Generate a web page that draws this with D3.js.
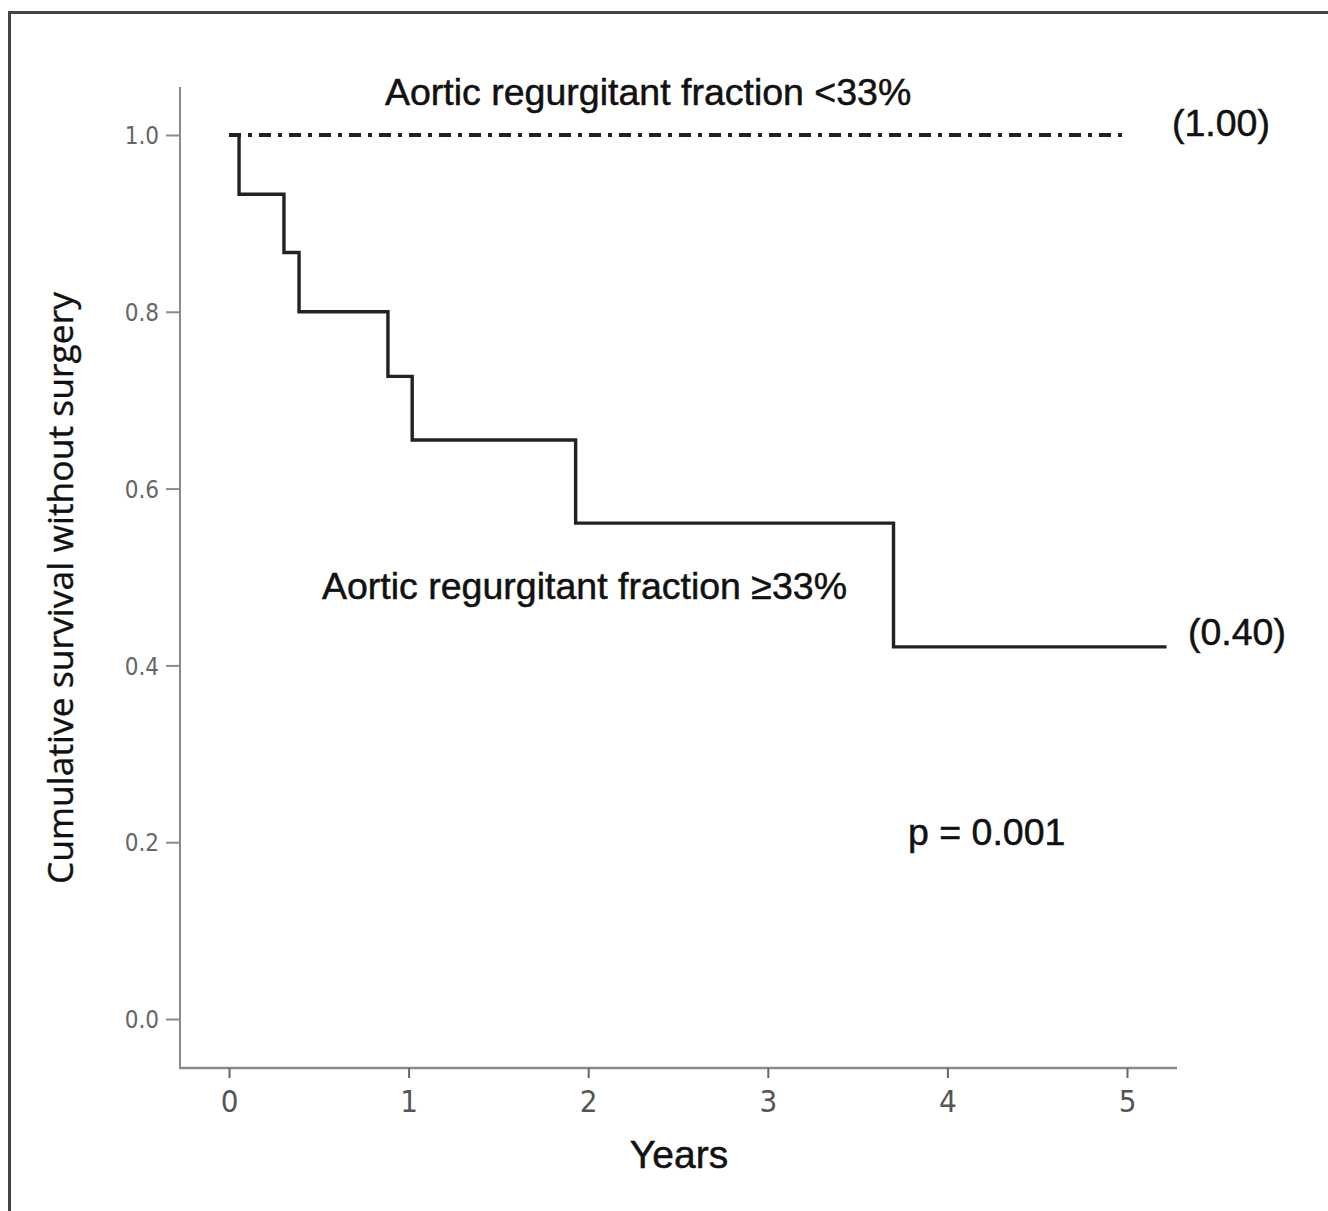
<!DOCTYPE html>
<html>
<head>
<meta charset="utf-8">
<script src="https://cdn.jsdelivr.net/npm/d3@7"></script>
<style>
  body { margin: 0; background: #fff; }
  svg { display: block; }
</style>
</head>
<body>
<svg id="mysvg" width="1328" height="1211"></svg>
<script>
// Kaplan-Meier steps
const lowTimes = [0, 5.0];
const lowSurv = [1.0, 1.0];
const highTimes = [0, 0.056, 0.306, 0.39, 0.885, 1.02, 1.93, 3.70, 5.22];
const highSurv = [1.0, 0.933, 0.867, 0.80, 0.727, 0.655, 0.561, 0.421, 0.421];
const xTicks = [0, 1, 2, 3, 4, 5];
const yTicks = [0, 0.2, 0.4, 0.6, 0.8, 1.0];
const labels = {
  low: 'Aortic regurgitant fraction <33%',
  high: 'Aortic regurgitant fraction \u226533%',
  lowEnd: '(1.00)',
  highEnd: '(0.40)',
  p: 'p = 0.001'
};

const svg = d3.select('#mysvg');
const axisColor = '#8a8a8a';
const font = '"Liberation Sans", Arial, sans-serif';
const narrow = '"Liberation Sans Narrow", "Arial Narrow", "DejaVu Sans Condensed", sans-serif';

// outer frame
svg.append('rect')
  .attr('x', 9.5).attr('y', 12.5)
  .attr('width', 1340).attr('height', 1240)
  .attr('fill', 'none')
  .attr('stroke', '#444')
  .attr('stroke-width', 3);

const xScale = d3.scaleLinear().domain([0, 5]).range([229, 1127]);
const yScale = d3.scaleLinear().domain([0, 1]).range([1019, 135]);

// axes lines
svg.append('line')
  .attr('x1', 180).attr('x2', 180)
  .attr('y1', 87).attr('y2', 1068)
  .attr('stroke', axisColor).attr('stroke-width', 2);
svg.append('line')
  .attr('x1', 179).attr('x2', 1177)
  .attr('y1', 1068).attr('y2', 1068)
  .attr('stroke', axisColor).attr('stroke-width', 2.5);

// y ticks
const yAxis = svg.append('g').attr('class', 'y-axis')
  .attr('transform', 'translate(180,0)')
  .call(d3.axisLeft(yScale).tickValues(yTicks).tickFormat(d3.format('.1f')).tickSize(14).tickPadding(7));
yAxis.select('.domain').remove();
yAxis.selectAll('line').attr('stroke', axisColor).attr('stroke-width', 2);
yAxis.selectAll('text')
  .attr('fill', '#666')
  .style('font', `24px ${narrow}`)
  .attr('dy', '0.36em');

// x ticks
const xAxis = svg.append('g').attr('class', 'x-axis')
  .attr('transform', 'translate(0,1068)')
  .call(d3.axisBottom(xScale).tickValues(xTicks).tickFormat(d3.format('d')).tickSize(10));
xAxis.select('.domain').remove();
xAxis.selectAll('line').attr('stroke', '#666').attr('stroke-width', 2);
xAxis.selectAll('text')
  .attr('fill', '#555')
  .attr('y', 44)
  .attr('dy', 0)
  .style('font', `31px ${narrow}`);

// axis titles
svg.append('text')
  .attr('x', 679).attr('y', 1168)
  .attr('text-anchor', 'middle')
  .attr('fill', '#111')
  .attr('stroke', '#111').attr('stroke-width', 0.5)
  .style('font', `39px ${font}`)
  .text('Years');

svg.append('text')
  .attr('transform', 'translate(73,588) rotate(-90)')
  .attr('text-anchor', 'middle')
  .attr('fill', '#111')
  .attr('stroke', '#111').attr('stroke-width', 0.4)
  .style('font', `35.5px "Open Sans", sans-serif`)
  .text('Cumulative survival without surgery');

// curves
const toPts = (ts, ss) => ts.map((t, i) => ({ t: t, s: ss[i] }));
const stepLine = d3.line()
  .x(d => xScale(d.t))
  .y(d => yScale(d.s))
  .curve(d3.curveStepAfter);

svg.append('path')
  .datum(toPts(lowTimes, lowSurv))
  .attr('d', stepLine)
  .attr('fill', 'none')
  .attr('stroke', '#222')
  .attr('stroke-width', 4)
  .attr('stroke-dasharray', '12,7,4,7');

svg.append('path')
  .datum(toPts(highTimes, highSurv))
  .attr('d', stepLine)
  .attr('fill', 'none')
  .attr('stroke', '#222')
  .attr('stroke-width', 3.4);

// annotations
const annot = [
  { text: labels.low, x: 385, y: 105 },
  { text: labels.lowEnd, x: 1172, y: 136 },
  { text: labels.high, x: 322, y: 599 },
  { text: labels.highEnd, x: 1188, y: 645 },
  { text: labels.p, x: 908, y: 845 }
];
svg.selectAll('.annot')
  .data(annot)
  .join('text')
  .attr('class', 'annot')
  .attr('x', d => d.x)
  .attr('y', d => d.y)
  .attr('fill', '#111')
  .attr('stroke', '#111').attr('stroke-width', 0.5)
  .style('font', `37.5px ${font}`)
  .text(d => d.text);
</script>
</body>
</html>
